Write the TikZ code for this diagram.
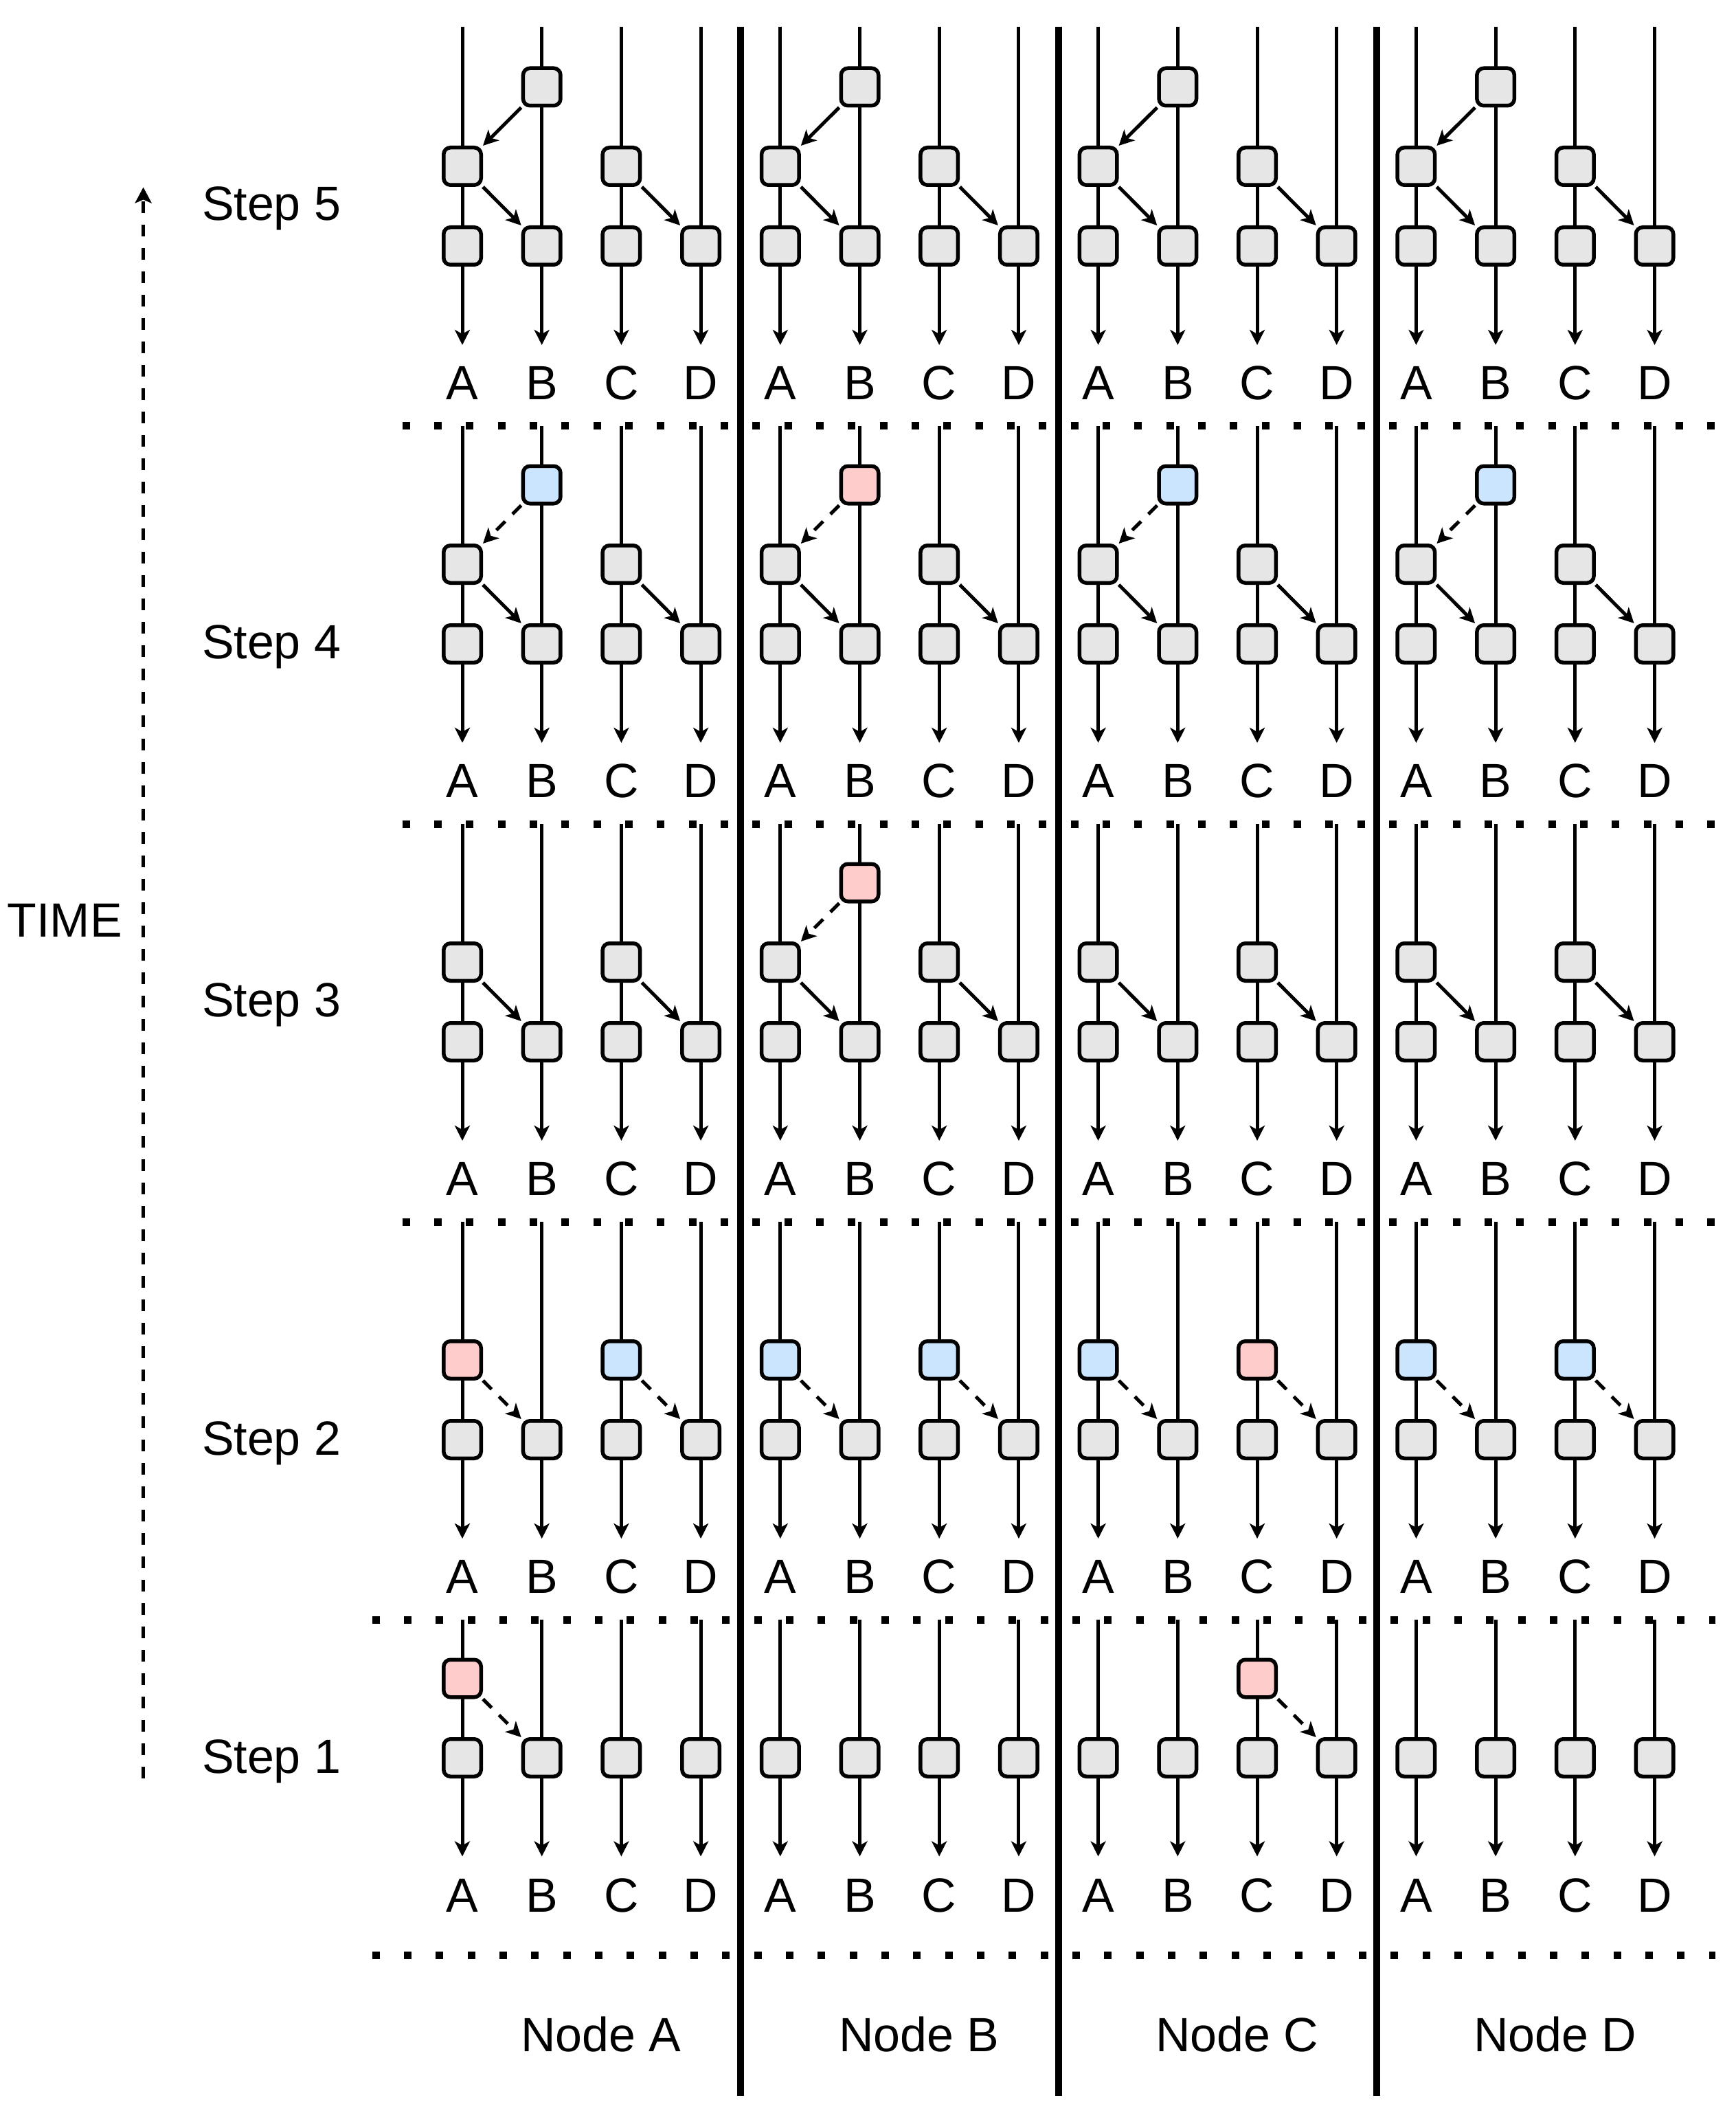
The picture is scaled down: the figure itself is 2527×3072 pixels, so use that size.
\documentclass[tikz,border=0pt]{standalone}
\usepackage{fontspec}
\setmainfont{Liberation Sans}
\usetikzlibrary{arrows.meta}
\definecolor{boxgrey}{HTML}{E6E6E6}
\definecolor{boxpink}{HTML}{FFCCCC}
\definecolor{boxblue}{HTML}{CCE5FF}
\tikzset{
  evt/.style={draw=black, line width=0.55mm, rounded corners=1mm, minimum width=5.45mm, minimum height=5.45mm, inner sep=0pt, fill=boxgrey},
  pinkevt/.style={evt, fill=boxpink},
  blueevt/.style={evt, fill=boxblue},
  tipstyle/.style={-{Stealth[length=2.2mm,width=2.2mm,inset=0.6mm]}},
  lane/.style={line width=0.5mm, tipstyle},
  msg/.style={line width=0.5mm, tipstyle},
  msgdash/.style={msg, dash pattern=on 1.8mm off 1.5mm},
  sepline/.style={line width=1mm},
  dotrow/.style={line width=1.1mm, dash pattern=on 1.1mm off 3.534mm},
  txt/.style={inner sep=0pt, font=\fontsize{19.9pt}{23.9pt}\selectfont},
  lbl/.style={txt, anchor=base},
  steplbl/.style={txt, anchor=base west},
  timearrow/.style={line width=0.55mm, dash pattern=on 1.7mm off 1.7mm, -{Stealth[length=2.3mm,width=2.4mm,inset=0.5mm]}},
}
% lane x positions of node #1
\newcommand\setlanes[1]{%
  \pgfmathsetmacro\lxa{673+115.7*(4*#1)}%
  \pgfmathsetmacro\lxb{673+115.7*(4*#1+1)}%
  \pgfmathsetmacro\lxc{673+115.7*(4*#1+2)}%
  \pgfmathsetmacro\lxd{673+115.7*(4*#1+3)}%
}
% full panel: step, node, r1, r2, r3, style of B1, style of B1 arrow
\newcommand\fullpanel[7]{%
  \setlanes{#2}%
  \node[#6] (s#1n#2B1) at (\lxb,#3) {};
  \node[evt] (s#1n#2A2) at (\lxa,#4) {};
  \node[evt] (s#1n#2C2) at (\lxc,#4) {};
  \node[evt] (s#1n#2A3) at (\lxa,#5) {};
  \node[evt] (s#1n#2B3) at (\lxb,#5) {};
  \node[evt] (s#1n#2C3) at (\lxc,#5) {};
  \node[evt] (s#1n#2D3) at (\lxd,#5) {};
  \draw[#7] (s#1n#2B1.south west) -- (s#1n#2A2.north east);
  \draw[msg] (s#1n#2A2.south east) -- (s#1n#2B3.north west);
  \draw[msg] (s#1n#2C2.south east) -- (s#1n#2D3.north west);
}
% middle panel: step, node, r2, r3, style A2, style C2, arrow style
\newcommand\midpanel[7]{%
  \setlanes{#2}%
  \node[#5] (s#1n#2A2) at (\lxa,#3) {};
  \node[#6] (s#1n#2C2) at (\lxc,#3) {};
  \node[evt] (s#1n#2A3) at (\lxa,#4) {};
  \node[evt] (s#1n#2B3) at (\lxb,#4) {};
  \node[evt] (s#1n#2C3) at (\lxc,#4) {};
  \node[evt] (s#1n#2D3) at (\lxd,#4) {};
  \draw[#7] (s#1n#2A2.south east) -- (s#1n#2B3.north west);
  \draw[#7] (s#1n#2C2.south east) -- (s#1n#2D3.north west);
}
% low panel (step 1): node, r2
\newcommand\lowpanel[2]{%
  \setlanes{#1}%
  \node[evt] (s1n#1A2) at (\lxa,#2) {};
  \node[evt] (s1n#1B2) at (\lxb,#2) {};
  \node[evt] (s1n#1C2) at (\lxc,#2) {};
  \node[evt] (s1n#1D2) at (\lxd,#2) {};
}
\begin{document}
\begin{tikzpicture}[x=0.1mm, y=-0.1mm]
\useasboundingbox (0,0) rectangle (2527,3072);

% dotted separators between steps
\foreach \y/\xs in {620/585.5, 1199/585.5, 1778/585.5, 2357/541.5, 2845/541.5} {
  \coordinate (dl\y) at (\xs,\y);
  \coordinate (dr\y) at (2497,\y);
  \draw[dotrow] (dl\y) -- (dr\y);
}

% lanes with arrows and letters
\foreach \s/\top/\tip/\lb in {5/39/502/581.5, 4/620/1081/1160.5, 3/1199/1660/1739.5, 2/1778/2239/2318.5, 1/2357/2701.5/2782} {
  \foreach \n in {0,1,2,3} {
    \foreach \j/\L in {0/A,1/B,2/C,3/D} {
      \pgfmathsetmacro\lx{673+115.7*(4*\n+\j)}
      \coordinate (t\s-\n-\j) at (\lx,\top);
      \coordinate (e\s-\n-\j) at (\lx,\tip);
      \draw[lane] (t\s-\n-\j) -- (e\s-\n-\j);
      \node[lbl] (l\s-\n-\j) at (\lx,\lb) {\L};
    }
  }
}

% node separators
\foreach \k/\x in {1/1077.95, 2/1540.75, 3/2003.55} {
  \coordinate (sept\k) at (\x,39);
  \coordinate (sepb\k) at (\x,3050);
  \draw[sepline] (sept\k) -- (sepb\k);
}

% Step 5
\foreach \n in {0,1,2,3} { \fullpanel{5}{\n}{126.5}{242}{358}{evt}{msg} }
% Step 4
\fullpanel{4}{0}{705.5}{821}{937}{blueevt}{msgdash}
\fullpanel{4}{1}{705.5}{821}{937}{pinkevt}{msgdash}
\fullpanel{4}{2}{705.5}{821}{937}{blueevt}{msgdash}
\fullpanel{4}{3}{705.5}{821}{937}{blueevt}{msgdash}
% Step 3
\foreach \n in {0,1,2,3} { \midpanel{3}{\n}{1400}{1516}{evt}{evt}{msg} }
\setlanes{1}
\node[pinkevt] (s3n1B1) at (\lxb,1284.5) {};
\draw[msgdash] (s3n1B1.south west) -- (s3n1A2.north east);
% Step 2
\midpanel{2}{0}{1979}{2095}{pinkevt}{blueevt}{msgdash}
\midpanel{2}{1}{1979}{2095}{blueevt}{blueevt}{msgdash}
\midpanel{2}{2}{1979}{2095}{blueevt}{pinkevt}{msgdash}
\midpanel{2}{3}{1979}{2095}{blueevt}{blueevt}{msgdash}
% Step 1
\foreach \n in {0,1,2,3} { \lowpanel{\n}{2558} }
\setlanes{0}
\node[pinkevt] (s1n0A1) at (\lxa,2442.5) {};
\draw[msgdash] (s1n0A1.south east) -- (s1n0B2.north west);
\setlanes{2}
\node[pinkevt] (s1n2C1) at (\lxc,2442.5) {};
\draw[msgdash] (s1n2C1.south east) -- (s1n2D2.north west);

% step labels
\node[steplbl] (st5) at (293.3,321) {Step 5};
\node[steplbl] (st4) at (293.3,958) {Step 4};
\node[steplbl] (st3) at (293.3,1479) {Step 3};
\node[steplbl] (st2) at (293.3,2117) {Step 2};
\node[steplbl] (st1) at (293.3,2580) {Step 1};

% time axis
\node[steplbl] (time) at (10,1363) {TIME};
\coordinate (timeb) at (208.6,2588);
\coordinate (timet) at (208.6,272.5);
\draw[timearrow] (timeb) -- (timet);

% node labels
\node[lbl] (nA) at (875,2985) {Node A};
\node[lbl] (nB) at (1338,2985) {Node B};
\node[lbl] (nC) at (1801,2985) {Node C};
\node[lbl] (nD) at (2264,2985) {Node D};
\end{tikzpicture}
\end{document}
